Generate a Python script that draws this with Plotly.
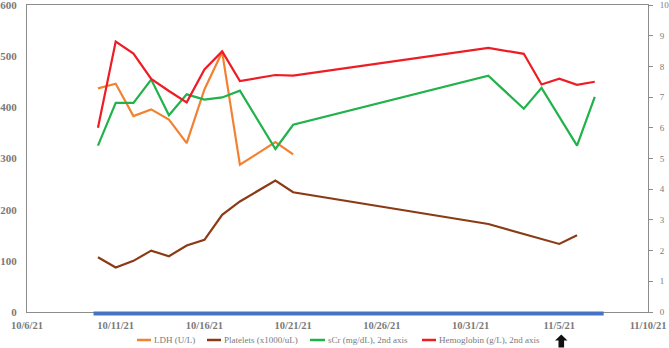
import plotly.graph_objects as go

# ---------------- data ----------------
dates_early = ["2021-10-10", "2021-10-11", "2021-10-12", "2021-10-13", "2021-10-14",
               "2021-10-15", "2021-10-16", "2021-10-17", "2021-10-18", "2021-10-20",
               "2021-10-21"]
ldh_dates = dates_early
ldh_values = [437, 446, 383, 396, 376, 330, 435, 508, 288, 332, 308]

platelet_dates = dates_early + ["2021-11-01", "2021-11-05", "2021-11-06"]
platelet_values = [107, 87, 100, 120, 109, 130, 141, 190, 216, 257, 234, 172, 133, 150]

scr_dates = dates_early + ["2021-11-01", "2021-11-03", "2021-11-04", "2021-11-06", "2021-11-07"]
scr_values = [5.42, 6.81, 6.81, 7.57, 6.41, 7.09, 6.92, 6.99, 7.21, 5.31, 6.10,
              7.70, 6.62, 7.30, 5.42, 7.01]

hgb_dates = dates_early + ["2021-11-01", "2021-11-03", "2021-11-04", "2021-11-05",
                           "2021-11-06", "2021-11-07"]
hgb_values = [6.00, 8.81, 8.42, 7.59, 7.20, 6.83, 7.90, 8.49, 7.52, 7.72, 7.70,
              8.60, 8.41, 7.41, 7.60, 7.40, 7.50]

series_names = ["LDH (U/L)", "Platelets (x1000/uL)", "sCr (mg/dL), 2nd axis",
                "Hemoglobin (g/L), 2nd axis"]
series_colors = ["#F28231", "#8A3B15", "#22B24C", "#EE1D25"]

treatment_period = ["2021-10-09 18:00", "2021-11-07 12:00"]
arrow_date = "2021-11-05"

x_range = ["2021-10-06", "2021-11-10"]
left_range = [0, 600]
right_range = [0, 10]

# ---------------- figure ----------------
fig = go.Figure()
LW = 2.2
fig.add_trace(go.Scatter(x=ldh_dates, y=ldh_values, mode="lines", name=series_names[0],
                         line=dict(color=series_colors[0], width=LW), showlegend=False))
fig.add_trace(go.Scatter(x=platelet_dates, y=platelet_values, mode="lines", name=series_names[1],
                         line=dict(color=series_colors[1], width=LW), showlegend=False))
fig.add_trace(go.Scatter(x=scr_dates, y=scr_values, mode="lines", name=series_names[2],
                         line=dict(color=series_colors[2], width=LW), yaxis="y2", showlegend=False))
fig.add_trace(go.Scatter(x=hgb_dates, y=hgb_values, mode="lines", name=series_names[3],
                         line=dict(color=series_colors[3], width=LW), yaxis="y2", showlegend=False))

AXIS_GRAY = "#8c8c8c"
TEXT_GRAY = "#7a7a7a"
FONT = "Liberation Serif, Times New Roman, serif"

fig.update_layout(
    width=669, height=348,
    margin=dict(l=27, r=21, t=5, b=36, autoexpand=False),
    paper_bgcolor="white", plot_bgcolor="white",
    font=dict(family=FONT, color=TEXT_GRAY),
    xaxis=dict(
        type="date", range=x_range, tick0="2021-10-06", dtick=5 * 86400000,
        tickformat="%-m/%-d/%y", showgrid=False, zeroline=False,
        showline=True, linecolor=AXIS_GRAY, linewidth=1, mirror=True,
        ticks="outside", ticklen=3, tickcolor="rgba(0,0,0,0)",
        ticklabeloverflow="allow",
        tickfont=dict(family=FONT, size=10.5, color=TEXT_GRAY, weight="bold"),
    ),
    yaxis=dict(
        range=left_range, dtick=100, showgrid=False, zeroline=False,
        showline=True, linecolor=AXIS_GRAY, linewidth=1, automargin=False,
        ticks="outside", ticklen=7, tickcolor="rgba(0,0,0,0)",
        ticklabeloverflow="allow",
        tickfont=dict(family=FONT, size=11, color=TEXT_GRAY, weight="bold"),
    ),
    yaxis2=dict(
        range=right_range, dtick=1, overlaying="y", side="right",
        showgrid=False, zeroline=False, automargin=False,
        showline=True, linecolor=AXIS_GRAY, linewidth=1,
        ticks="outside", ticklen=4, tickcolor=AXIS_GRAY, ticklabelstandoff=5,
        ticklabeloverflow="allow",
        tickfont=dict(family=FONT, size=9, color=TEXT_GRAY),
    ),
)

# treatment bar along the x axis
fig.add_shape(type="rect", xref="x", yref="paper", ysizemode="pixel", yanchor=0,
              x0=treatment_period[0], x1=treatment_period[1], y0=0.5, y1=-3.5,
              fillcolor="#4472C4", line=dict(width=0), layer="above")

# black arrow under the 11/5/21 label
cx = 2
arrow_path = (f"M{cx-6.2},-28.5 L{cx},-22.5 L{cx+6.2},-28.5 L{cx+2.8},-28.5 "
              f"L{cx+2.8},-35.5 L{cx-2.8},-35.5 L{cx-2.8},-28.5 Z")
fig.add_shape(type="path", xref="x", xsizemode="pixel", xanchor=arrow_date,
              yref="paper", ysizemode="pixel", yanchor=0, path=arrow_path,
              fillcolor="#111111", line=dict(width=0))

# manual legend (pixel offsets from plot-area left edge)
legend_line_px = [(110, 124), (180, 194), (283, 298), (395, 409)]
legend_text_px = [125, 195, 299, 410]
legend_y_shift = -28
for (a, b), tx, name, col in zip(legend_line_px, legend_text_px, series_names, series_colors):
    fig.add_shape(type="line", xref="paper", xsizemode="pixel", xanchor=0,
                  yref="paper", ysizemode="pixel", yanchor=0,
                  x0=a, x1=b, y0=legend_y_shift, y1=legend_y_shift,
                  line=dict(color=col, width=2.5))
    fig.add_annotation(xref="paper", yref="paper", x=0, y=0, xshift=tx,
                       yshift=legend_y_shift, xanchor="left", yanchor="middle",
                       text=name, showarrow=False,
                       font=dict(family=FONT, size=9, color=TEXT_GRAY))

fig.write_html("out.html")
